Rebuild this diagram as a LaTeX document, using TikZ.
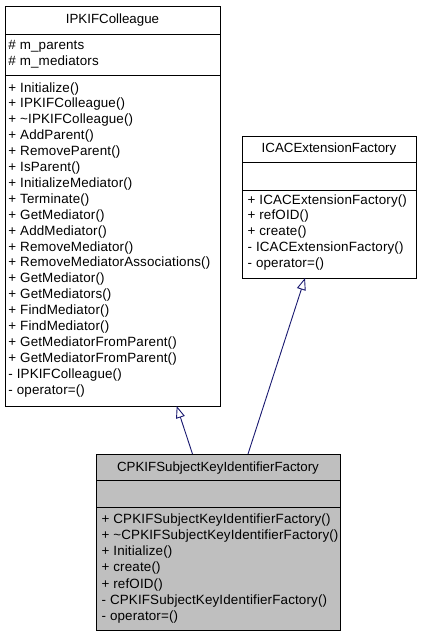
\documentclass[tikz,border=0pt]{standalone}
\usepackage{fontspec}
\setmainfont{Liberation Sans}
\newfontfamily\memberfont[LetterSpace=1.1]{Liberation Sans}
\usetikzlibrary{arrows.meta}
\definecolor{edgeblue}{HTML}{191970}
\definecolor{classgray}{HTML}{BFBFBF}
\tikzset{
  classbox/.style={draw=black, line width=1pt, anchor=north west, inner sep=0pt, outer sep=0pt},
  txt/.style={anchor=base west, inner sep=0pt, font=\memberfont\fontsize{13.4}{16}\selectfont},
  ttl/.style={anchor=base, inner sep=0pt, font=\fontsize{13.3}{16}\selectfont},
  inherit/.style={draw=edgeblue, line width=0.9pt, -{Triangle[open, length=12pt, width=9pt, fill=white]}},
}
\begin{document}
\begin{tikzpicture}[x=1pt,y=-1pt]
\useasboundingbox (0,0) rectangle (421,635);
% IPKIFColleague
\node[classbox, minimum width=215pt, minimum height=400pt] (ipk) at (5,6) {};
\draw[line width=1pt] (5,34) -- (220,34) (5,75) -- (220,75);
\node[ttl] (ipkt) at (112.5,23) {IPKIFColleague};
\node[txt] (ipka1) at (8.3,49.5) {\# m\_parents};
\node[txt] (ipka2) at (8.3,65.5) {\# m\_mediators};
\foreach \t [count=\i from 0] in {+ Initialize(), + IPKIFColleague(), + \char"7E IPKIFColleague(), + AddParent(), + RemoveParent(), + IsParent(), + InitializeMediator(), + Terminate(), + GetMediator(), + AddMediator(), + RemoveMediator(), + RemoveMediatorAssociations(), + GetMediator(), + GetMediators(), + FindMediator(), + FindMediator(), + GetMediatorFromParent(), + GetMediatorFromParent(), - IPKIFColleague(), - operator=()}
  \node[txt] (ipkm\i) at (8.3,92+15.9*\i) {\t};
% ICACExtensionFactory
\node[classbox, minimum width=174pt, minimum height=142pt] (icac) at (242,136) {};
\draw[line width=1pt] (242,162) -- (416,162) (242,190) -- (416,190);
\node[ttl] (icact) at (329,152) {ICACExtensionFactory};
\foreach \t [count=\i from 0] in {+ ICACExtensionFactory(), + refOID(), + create(), - ICACExtensionFactory(), - operator=()}
  \node[txt] (icacm\i) at (247.5,204+15.9*\i) {\t};
% CPKIFSubjectKeyIdentifierFactory
\node[classbox, fill=classgray, minimum width=244pt, minimum height=176pt] (cpk) at (96,454) {};
\draw[line width=1pt] (96,480) -- (340,480) (96,507) -- (340,507);
\node[ttl] (cpkt) at (218,471.5) {CPKIFSubjectKeyIdentifierFactory};
\foreach \t [count=\i from 0] in {+ CPKIFSubjectKeyIdentifierFactory(), + \char"7E CPKIFSubjectKeyIdentifierFactory(), + Initialize(), + create(), + refOID(), - CPKIFSubjectKeyIdentifierFactory(), - operator=()}
  \node[txt] (cpkm\i) at (101.5,523.3+16.2*\i) {\t};
% connectors
\coordinate (s1) at (192.5,454);
\coordinate (e1) at (176.7,406);
\coordinate (s2) at (248,454);
\coordinate (e2) at (305,278);
\draw[inherit] (s1) -- (e1);
\draw[inherit] (s2) -- (e2);
\end{tikzpicture}
\end{document}
